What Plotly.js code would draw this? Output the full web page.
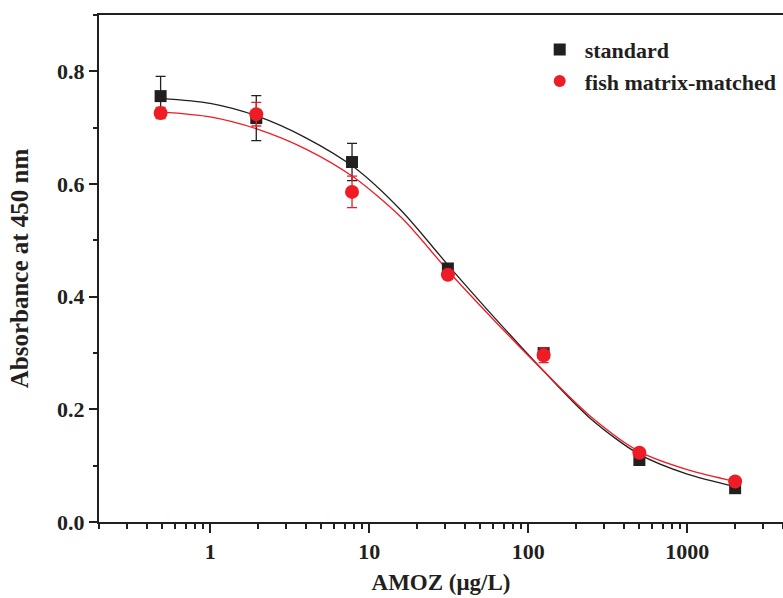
<!DOCTYPE html>
<html>
<head>
<meta charset="utf-8">
<script src="https://cdn.plot.ly/plotly-3.0.1.min.js"></script>
<style>html,body{margin:0;padding:0;background:#fff;}#chart{width:783px;height:598px;}</style>
</head>
<body>
<div id="chart"></div>
<script>
// Measured concentrations (µg/L)
const conc = [0.488, 1.95, 7.8, 31.25, 125, 500, 2000];
// Standard series
const stdY = [0.756, 0.717, 0.639, 0.450, 0.300, 0.110, 0.060];
const stdErr = [0.035, 0.040, 0.033, 0.005, 0.008, 0.004, 0.004];
// Fish matrix-matched series
const fishY = [0.726, 0.724, 0.586, 0.439, 0.296, 0.123, 0.072];
const fishErr = [0.010, 0.021, 0.028, 0.005, 0.013, 0.004, 0.004];
// Fitted curves
const fitX = [0.488, 1, 2, 4, 8, 16, 32, 64, 125, 250, 500, 1000, 2000];
const stdFit = [0.752, 0.743, 0.720, 0.682, 0.630, 0.552, 0.453, 0.357, 0.268, 0.182, 0.120, 0.085, 0.063];
const fishFit = [0.728, 0.719, 0.697, 0.662, 0.612, 0.540, 0.443, 0.352, 0.268, 0.186, 0.125, 0.093, 0.072];
const xTickVals = [1, 10, 100, 1000];
const xTickText = ['1', '10', '100', '1000'];

const FONT = 'Liberation Serif, Times New Roman, serif';

const traces = [
  {x: fitX, y: stdFit, mode: 'lines', line: {color: '#231f20', width: 1.3, shape: 'spline', smoothing: 0.8}, showlegend: false, hoverinfo: 'skip'},
  {x: fitX, y: fishFit, mode: 'lines', line: {color: '#ee1c25', width: 1.3, shape: 'spline', smoothing: 0.8}, showlegend: false, hoverinfo: 'skip'},
  {x: conc, y: stdY, name: 'standard', mode: 'markers',
   marker: {symbol: 'square', size: 12, color: '#231f20'},
   error_y: {type: 'data', array: stdErr, visible: true, color: '#231f20', thickness: 1.3, width: 5}},
  {x: conc, y: fishY, name: 'fish matrix-matched', mode: 'markers',
   marker: {symbol: 'circle', size: 14, color: '#ee1c25'},
   error_y: {type: 'data', array: fishErr, visible: true, color: '#ee1c25', thickness: 1.3, width: 5}}
];

const layout = {
  width: 783, height: 598,
  margin: {l: 99, r: 0, t: 15, b: 76},
  paper_bgcolor: '#fff', plot_bgcolor: '#fff',
  font: {family: FONT, color: '#231f20', size: 22, weight: 'bold'},
  xaxis: {
    type: 'log', range: [Math.log10(0.2), Math.log10(4000)],
    tickvals: xTickVals, ticktext: xTickText,
    showgrid: false, zeroline: false,
    showline: true, linecolor: '#231f20', linewidth: 2, mirror: true,
    ticks: 'outside', ticklen: 9, tickwidth: 2, tickcolor: '#231f20',
    tickfont: {family: FONT, size: 22, weight: 'bold'},
    minor: {ticks: 'outside', ticklen: 5, tickwidth: 2, tickcolor: '#231f20', dtick: 'D1', showgrid: false},
    title: {text: 'AMOZ (μg/L)', font: {family: FONT, size: 23, weight: 'bold'}, standoff: 10}
  },
  yaxis: {
    range: [0, 0.9], dtick: 0.2, tick0: 0, tickformat: '.1f',
    showgrid: false, zeroline: false,
    showline: true, linecolor: '#231f20', linewidth: 2,
    ticks: 'outside', ticklen: 8, tickwidth: 2, tickcolor: '#231f20',
    tickfont: {family: FONT, size: 22, weight: 'bold'},
    minor: {ticks: 'outside', ticklen: 4, tickwidth: 2, tickcolor: '#231f20', dtick: 0.1, showgrid: false},
    title: {text: 'Absorbance at 450 nm', font: {family: FONT, size: 25, weight: 'bold'}, standoff: 21}
  },
  legend: {
    x: 0.637, y: 0.973, xanchor: 'left', yanchor: 'top',
    bgcolor: 'rgba(0,0,0,0)', borderwidth: 0,
    font: {family: FONT, size: 22, weight: 'bold', color: '#231f20'},
    tracegroupgap: 0, itemwidth: 40, itemsizing: 'constant'
  },
  showlegend: true
};

Plotly.newPlot('chart', traces, layout, {displayModeBar: false, staticPlot: true});
</script>
</body>
</html>
